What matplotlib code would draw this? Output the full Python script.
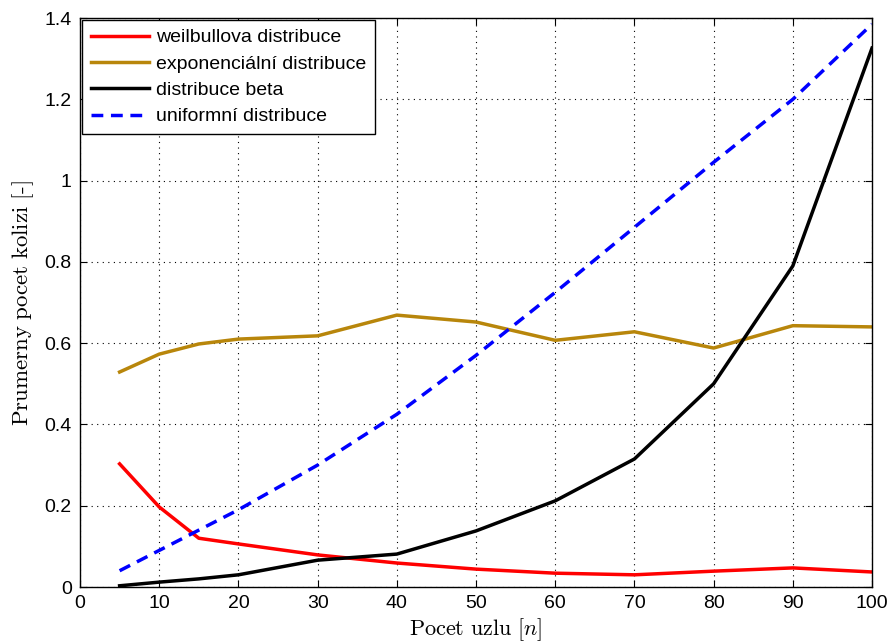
import numpy as np
import matplotlib
matplotlib.use("Agg")
import matplotlib.pyplot as plt

plt.rcParams['font.family'] = ['Liberation Sans', 'DejaVu Sans']
plt.rcParams['mathtext.fontset'] = 'cm'

n = [5, 10, 15, 20, 30, 40, 50, 60, 70, 80, 90, 100]
weibull = [0.303, 0.197, 0.120, 0.106, 0.079, 0.059, 0.044, 0.034, 0.030, 0.039, 0.047, 0.037]
expon = [0.529, 0.573, 0.598, 0.610, 0.618, 0.669, 0.652, 0.607, 0.628, 0.588, 0.643, 0.640]
beta = [0.003, 0.012, 0.020, 0.030, 0.066, 0.081, 0.138, 0.212, 0.315, 0.500, 0.790, 1.326]
uniform = [0.040, 0.090, 0.140, 0.190, 0.300, 0.425, 0.570, 0.725, 0.885, 1.045, 1.200, 1.385]

fig = plt.figure(figsize=(8.92, 6.44), dpi=100)
ax = fig.add_axes([0.0897, 0.0885, 0.8879, 0.8835])

lw = 2.5
ax.plot(n, weibull, color='#ff0000', lw=lw, label='weilbullova distribuce')
ax.plot(n, expon, color='#b8860b', lw=lw, label='exponenciální distribuce')
ax.plot(n, beta, color='black', lw=lw, label='distribuce beta')
ax.plot(n, uniform, color='#0000ff', lw=lw, ls=(0, (3.4, 2.2)), label='uniformní distribuce')

ax.set_xlim(0, 100)
ax.set_ylim(0, 1.4)
ax.set_xticks(np.arange(0, 101, 10))
ax.set_yticks(np.arange(0, 1.41, 0.2))
ax.set_yticklabels(['0', '0.2', '0.4', '0.6', '0.8', '1', '1.2', '1.4'])
ax.grid(True, color='black', ls=(0, (1, 4)), lw=0.8)
ax.tick_params(direction='in', top=True, right=True, labelsize=14, length=5, pad=6)
for s in ax.spines.values():
    s.set_linewidth(1.0)

ax.set_xlabel(r'$\mathrm{Pocet\ uzlu}\ [n]$', fontsize=16, labelpad=3)
ax.set_ylabel(r'$\mathrm{Prumerny\ pocet\ kolizi\ [\text{-}]}$', fontsize=16.5, labelpad=6)

leg = ax.legend(loc='upper left', fontsize=14, fancybox=False, framealpha=1,
                edgecolor='black', borderaxespad=0.1, handlelength=3.0,
                handletextpad=0.35, labelspacing=0.45, borderpad=0.45)
leg.get_frame().set_linewidth(1.0)

fig.savefig('out.png', dpi=100)
